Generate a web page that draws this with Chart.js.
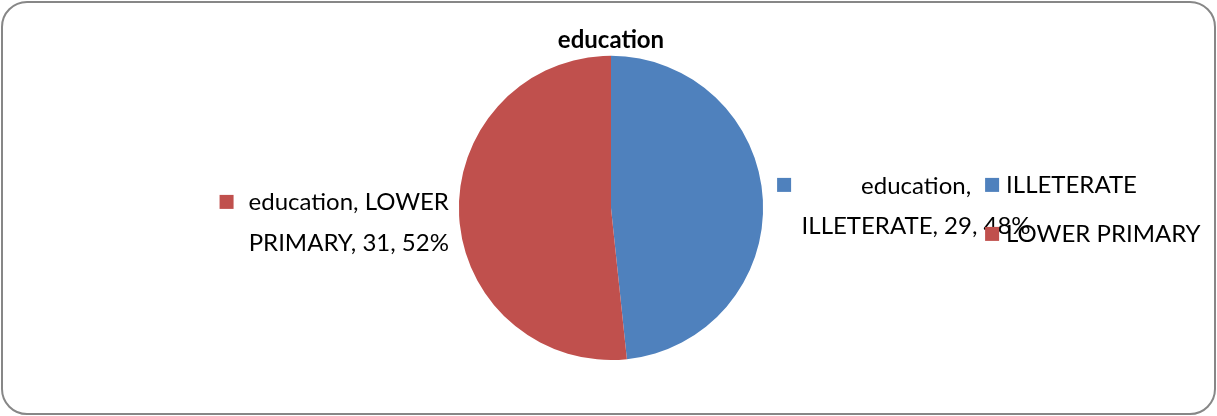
<!DOCTYPE html>
<html>
<head>
<meta charset="utf-8">
<script src="https://cdn.jsdelivr.net/npm/chart.js@4/dist/chart.umd.min.js"></script>
<style>
  html, body { margin: 0; padding: 0; background: #fff; }
  #wrap { width: 1217px; height: 416px; position: relative; }
</style>
</head>
<body>
<div id="wrap"><canvas id="pie"></canvas></div>
<script>
// chart data
const chartTitle = "education";
const categories = ["ILLETERATE", "LOWER PRIMARY"];
const counts = [29, 31];
const colors = ["#4F81BD", "#C0504D"];

const FONT = "Lato, 'Open Sans', sans-serif";
const TEXT_SIZE = 24;

// percentage of each slice, rounded like the office label
function percentOf(i) {
    const total = counts.reduce((a, b) => a + b, 0);
    return Math.round(counts[i] / total * 100) + "%";
}

// rounded frame around the whole chart
const framePlugin = {
    id: "frame",
    beforeDraw(chart) {
        const ctx = chart.ctx;
        const w = chart.width, h = chart.height, r = 25;
        ctx.save();
        ctx.strokeStyle = "#878787";
        ctx.lineWidth = 2;
        ctx.beginPath();
        ctx.roundRect(2, 2, w - 4, h - 4, r);
        ctx.stroke();
        ctx.restore();
    }
};

// data labels placed beside the pie + legend on the right
const labelPlugin = {
    id: "pieLabels",
    afterDraw(chart) {
        const ctx = chart.ctx;
        const arc = chart.getDatasetMeta(0).data[0];
        const cx = arc.x, cy = arc.y, r = arc.outerRadius;
        ctx.save();
        ctx.font = TEXT_SIZE + "px " + FONT;
        ctx.fillStyle = "#000";
        ctx.textBaseline = "middle";

        // left label (LOWER PRIMARY)
        const lx = cx - r - 10;
        const line1 = "education, " + categories[1].split(" ")[0];
        ctx.textAlign = "right";
        ctx.fillText(line1, lx, cy - 6);
        ctx.fillText(categories[1].split(" ")[1] + ", " + counts[1] + ", " + percentOf(1), lx, cy + 35);
        const textLeft = lx - ctx.measureText(line1).width;
        ctx.fillStyle = colors[1];
        ctx.fillRect(textLeft - 29, cy - 13, 14, 14);

        // right label (ILLETERATE)
        const rx = cx + r + 14;
        ctx.fillStyle = colors[0];
        ctx.fillRect(rx, cy - 30, 14, 14);
        ctx.fillStyle = "#000";
        ctx.textAlign = "center";
        ctx.fillText("education,", rx + 139, cy - 22);
        ctx.fillText(categories[0] + ", " + counts[0] + ", " + percentOf(0), rx + 139, cy + 18);

        // legend
        const gx = cx + r + 222;
        ctx.textAlign = "left";
        categories.forEach((name, i) => {
            const y = cy - 23 + i * 49;
            ctx.fillStyle = colors[i];
            ctx.fillRect(gx, y - 7, 14, 14);
            ctx.fillStyle = "#000";
            ctx.fillText(name, gx + 21, y);
        });
        ctx.restore();
    }
};

new Chart(document.getElementById("pie"), {
    type: "pie",
    data: {
        labels: categories,
        datasets: [{
            data: counts,
            backgroundColor: colors,
            borderWidth: 0
        }]
    },
    options: {
        responsive: true,
        maintainAspectRatio: false,
        animation: false,
        layout: { padding: { left: 400, right: 395, top: 0, bottom: 56 } },
        plugins: {
            legend: { display: false },
            tooltip: { enabled: false },
            title: {
                display: true,
                text: chartTitle,
                color: "#000",
                font: { family: FONT, size: 24, weight: "bold" },
                padding: { top: 26, bottom: 1 }
            }
        }
    },
    plugins: [framePlugin, labelPlugin]
});
</script>
</body>
</html>
